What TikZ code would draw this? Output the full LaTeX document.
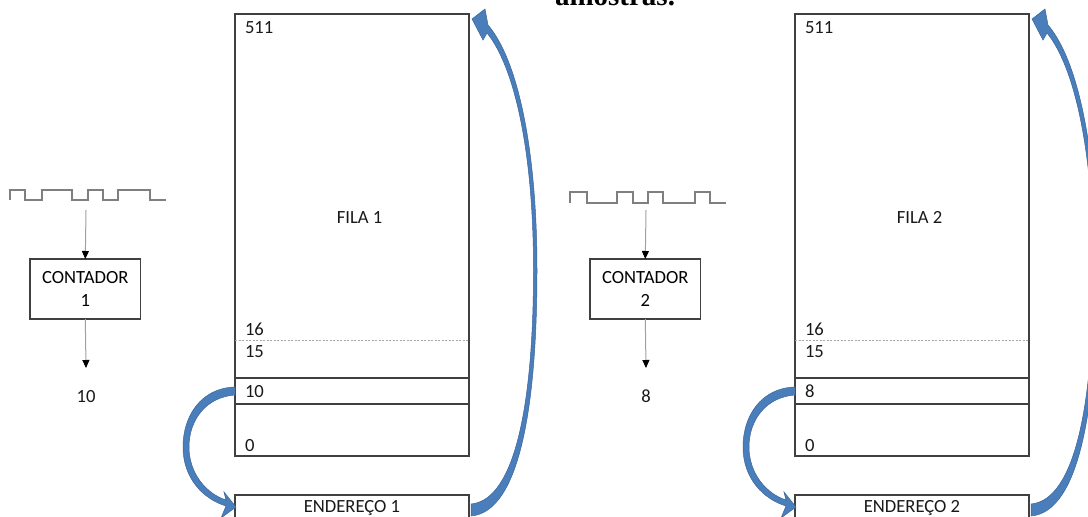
\documentclass[tikz,border=0pt]{standalone}
\usepackage{fontspec}
\setmainfont{Carlito}
\newfontfamily\serifbold{Liberation Serif}
\usetikzlibrary{arrows.meta}
\definecolor{boxline}{HTML}{404040}
\definecolor{connline}{HTML}{A0A0A0}
\definecolor{waveline}{HTML}{7F7F7F}
\definecolor{dotline}{HTML}{A6A6A6}
\definecolor{arrowblue}{HTML}{4A7EBB}
\definecolor{arrowedge}{HTML}{3A659A}
\tikzset{
  membox/.style={draw=boxline, line width=1.1pt, minimum width=234pt, minimum height=442pt, inner sep=0pt, outer sep=0pt},
  addrbox/.style={draw=boxline, line width=1.1pt, minimum width=234pt, minimum height=27pt, inner sep=0pt, outer sep=0pt},
  cntbox/.style={draw=boxline, line width=1.1pt, minimum width=110.7pt, minimum height=60pt, inner sep=0pt, outer sep=0pt, align=center},
  sepline/.style={draw=boxline, line width=1.1pt},
  dotsep/.style={draw=dotline, line width=0.8pt, dash pattern=on 2pt off 1.5pt},
  lab/.style={inner sep=0pt, outer sep=0pt, text=black!90},
  conn/.style={draw=connline, line width=1pt, -{Triangle[width=7pt,length=8pt,color=black]}},
  wave/.style={draw=waveline, line width=1.6pt, line join=miter},
  bluearrow/.style={fill=arrowblue, draw=arrowedge, line width=0.5pt},
}
\begin{document}
\begin{tikzpicture}[x=1pt,y=-1pt,font=\fontsize{18.6}{23}\selectfont]
\useasboundingbox (0,0) rectangle (1088,517);
\clip (0,0) rectangle (1088,517);
\fill[white] (0,0) rectangle (1088,517);

% cut caption above
\node[lab, text=black, anchor=base west, font=\serifbold\bfseries\fontsize{29}{32}\selectfont] (caption) at (555,5) {amostras.};

% clock waveforms
\draw[wave] (10,200) -- (10,190) -- (25,190) -- (25,200) -- (42,200) -- (42,190) -- (72,190) -- (72,200) -- (88,200) -- (88,190) -- (103,190) -- (103,200) -- (118,200) -- (118,190) -- (150,190) -- (150,200) -- (166,200);
\draw[wave] (570,203) -- (570,192) -- (587,192) -- (587,203) -- (617,203) -- (617,192) -- (633,192) -- (633,203) -- (648,203) -- (648,192) -- (663,192) -- (663,203) -- (695,203) -- (695,192) -- (710,192) -- (710,203) -- (726,203);

\foreach \i/\dx/\v in {1/0/10,2/560/8}{
  % counter
  \coordinate (clk\i) at (86+\dx,210);
  \node[cntbox] (cnt\i) at (85.3+\dx,289) {CONTADOR\\\i};
  \coordinate (out\i) at (86+\dx,368);
  \node[lab, anchor=base] (val\i) at (86+\dx,402) {\v};
  \draw[conn] (clk\i) -- (cnt\i.north);
  \draw[conn] (cnt\i.south) -- (out\i);

  % memory queue
  \node[membox] (fila\i) at (352+\dx,235) {};
  \draw[dotsep] (235+\dx,340) -- (469+\dx,340);
  \draw[sepline] (235+\dx,378) -- (469+\dx,378);
  \draw[sepline] (235+\dx,404) -- (469+\dx,404);
  \node[lab, anchor=base] (name\i) at (359.5+\dx,223) {FILA \i};
  \node[lab, anchor=base west] (a\i) at (245+\dx,33) {511};
  \node[lab, anchor=base west] (b\i) at (245+\dx,335) {16};
  \node[lab, anchor=base west] (c\i) at (245+\dx,357) {15};
  \node[lab, anchor=base west] (d\i) at (245+\dx,397) {\v};
  \node[lab, anchor=base west] (e\i) at (245+\dx,451) {0};

  % address register
  \node[addrbox] (end\i) at (352+\dx,508.5) {};
  \node[lab, anchor=base] (endt\i) at (352+\dx,512.5) {ENDEREÇO \i};

  \begin{scope}[xshift=\dx pt]
    % curved arrow from current entry to address register
    \filldraw[bluearrow] (235,387) .. controls (201,388) and (183,416) .. (183,447)
      .. controls (183,478) and (203,499) .. (226,506)
      -- (221,518) -- (236,507) -- (224,492) -- (226,500)
      .. controls (207,494) and (189,474) .. (189,447)
      .. controls (189,420) and (206,397) .. (235,395) -- cycle;
    % long arrow from address register back to top of queue
    \filldraw[bluearrow] (471,516) .. controls (521,512) and (537,400) .. (537,270)
      .. controls (537,150) and (518,60) .. (488,25)
      -- (485,9) -- (472,19) -- (483,40) -- (487,33)
      .. controls (514,66) and (533.5,150) .. (533.5,270)
      .. controls (533.5,400) and (516,500) .. (471,504) -- cycle;
  \end{scope}
}
\end{tikzpicture}
\end{document}
